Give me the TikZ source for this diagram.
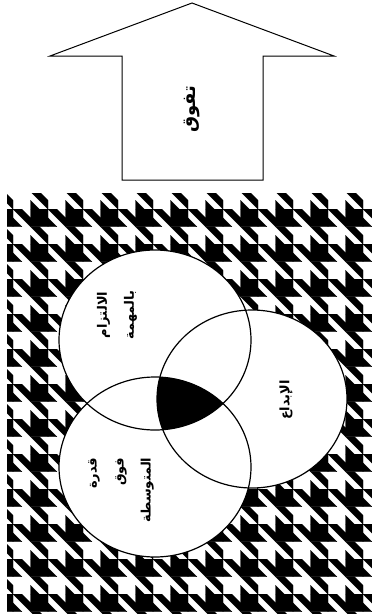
\documentclass[tikz,border=0pt]{standalone}
\usepackage{fontspec}
\newfontfamily\arabicfont[Script=Arabic]{DejaVu Sans}
\TeXXeTstate=1
\begin{document}
\begin{tikzpicture}[
    x=1pt, y=-1pt,
    ring/.style={draw, line width=1.2pt},
    word/.style={font=\arabicfont\bfseries\fontsize{13}{27}\selectfont, rotate=90, inner sep=0pt},
    tooth/.style={fill=black, draw=black, line width=0.3pt}
]
    \useasboundingbox (0,0) rectangle (372,614);
    \begin{scope}
        \clip (7,193) rectangle (372,614);
        \foreach \i in {-1,...,10}
            \foreach \j in {4,...,17}
                \path[tooth, shift={(13+35*\i,16.7+35*\j)}, scale=8.75]
                    (2,2) rectangle (4,4)
                    (0,4) -- (1,4) -- (0,3) -- cycle
                    (2,4) -- (2,3) -- (1,2) -- (0,2) -- cycle
                    (2,2) -- (3,2) -- (2,1) -- cycle
                    (4,2) -- (4,1) -- (3,0) -- (2,0) -- cycle;
    \end{scope}

    \fill[white] (155,340) ellipse [x radius=96, y radius=90]
        (252,399) ellipse [x radius=95, y radius=89]
        (155,467) ellipse [x radius=96, y radius=90];
    \begin{scope}
        \clip (155,340) ellipse [x radius=96, y radius=90];
        \clip (252,399) ellipse [x radius=95, y radius=89];
        \fill[black] (155,467) ellipse [x radius=96, y radius=90];
    \end{scope}
    \draw[ring] (155,340) ellipse [x radius=96, y radius=90];
    \draw[ring] (252,399) ellipse [x radius=95, y radius=89];
    \draw[ring] (155,467) ellipse [x radius=96, y radius=90];

    \draw[line width=1pt, fill=white] (122,180) -- (122,56) -- (50,56) -- (192,3)
        -- (334,56) -- (263,56) -- (263,180) -- cycle;

    \node[word, font=\arabicfont\bfseries\fontsize{18}{20}\selectfont] (rise) at (192,109) {\beginR تفوق\endR};
    \node[word, align=center] (commit) at (117,315) {\beginR الالتزام\endR\\\beginR بالمهمة\endR};
    \node[word] (creative) at (286,400) {\beginR الإبداع\endR};
    \node[word, align=right] (ability) at (121,490) {\beginR قدرة\endR\\\beginR فوق\endR\\\beginR المتوسطة\endR};
\end{tikzpicture}
\end{document}
